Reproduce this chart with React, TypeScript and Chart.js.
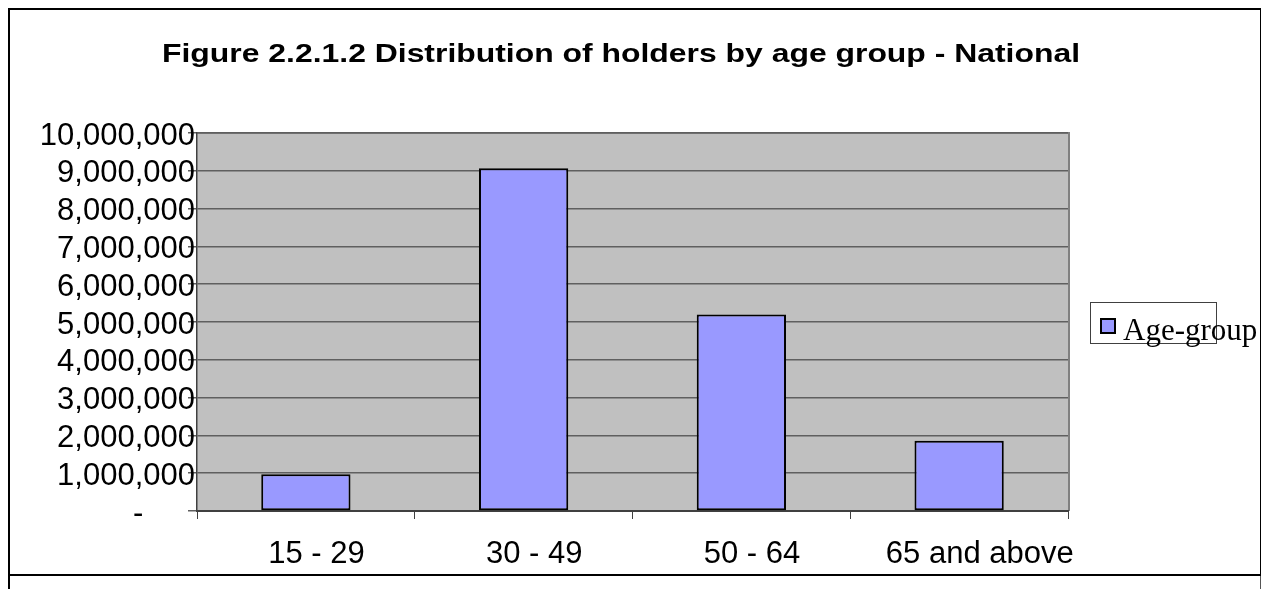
import React, { useEffect, useRef } from 'react';
import { Chart, registerables } from 'chart.js';

Chart.register(...registerables);

const TITLE = 'Figure 2.2.1.2 Distribution of holders by age group - National';
const CATEGORIES = ['15 - 29', '30 - 49', '50 - 64', '65 and above'];
const SERIES_LABEL = 'Age-group';
const SERIES_VALUES = [970000, 9070000, 5200000, 1860000];
const Y_MIN = 0;
const Y_MAX = 10000000;
const Y_STEP = 1000000;
const ZERO_LABEL = '-      ';

const SANS = '"Liberation Sans", Arial, sans-serif';
const SERIF = '"Liberation Serif", "Times New Roman", serif';

const W = 1253;
const H = 581;

const plotBackground = {
  id: 'plotBackground',
  beforeDraw(chart: any) {
    const { ctx, chartArea } = chart;
    const { left, top, right, bottom } = chartArea;
    ctx.save();
    ctx.fillStyle = '#C0C0C0';
    ctx.fillRect(left, top, right - left, bottom - top);
    ctx.strokeStyle = '#808080';
    ctx.lineWidth = 2;
    ctx.beginPath();
    ctx.moveTo(left, top);
    ctx.lineTo(right + 1, top);
    ctx.lineTo(right + 1, bottom);
    ctx.stroke();
    ctx.restore();
  },
};

const titlePlugin = {
  id: 'stretchedTitle',
  afterDraw(chart: any) {
    const { ctx } = chart;
    ctx.save();
    ctx.font = `bold 26.5px ${SANS}`;
    ctx.fillStyle = '#000';
    ctx.textAlign = 'center';
    ctx.textBaseline = 'alphabetic';
    const w = ctx.measureText(TITLE).width;
    const sx = 918 / w;
    ctx.translate(613, 54.3);
    ctx.scale(sx, 1);
    ctx.fillText(TITLE, 0, 0);
    ctx.restore();
  },
};

const xLabelsPlugin = {
  id: 'xLabels',
  afterDraw(chart: any) {
    const { ctx, chartArea } = chart;
    const xs = chart.scales.x;
    ctx.save();
    ctx.font = `31px ${SANS}`;
    ctx.fillStyle = '#000';
    ctx.textAlign = 'left';
    ctx.textBaseline = 'alphabetic';
    const labels = chart.data.labels as string[];
    labels.forEach((lab, i) => {
      const px = xs.getPixelForValue(i);
      const w = ctx.measureText(lab).width;
      ctx.fillText(lab, px - 0.39 * w, chartArea.bottom + 52);
    });
    ctx.restore();
  },
};

const legendPlugin = {
  id: 'boxLegend',
  afterDraw(chart: any) {
    const { ctx, chartArea } = chart;
    const ds = chart.data.datasets[0];
    const x0 = chartArea.right + 22;
    const boxW = 126;
    const boxH = 41;
    const y0 = Math.round((chartArea.top + chartArea.bottom) / 2 - boxH / 2);
    ctx.save();
    ctx.strokeStyle = '#404040';
    ctx.lineWidth = 1;
    ctx.strokeRect(x0 + 0.5, y0 + 0.5, boxW, boxH);
    ctx.fillStyle = ds.backgroundColor;
    ctx.fillRect(x0 + 10, y0 + 16, 16, 16);
    ctx.strokeStyle = '#000';
    ctx.lineWidth = 2;
    ctx.strokeRect(x0 + 11, y0 + 17, 14, 14);
    ctx.font = `31px ${SERIF}`;
    ctx.fillStyle = '#000';
    ctx.textAlign = 'left';
    ctx.textBaseline = 'alphabetic';
    ctx.fillText(ds.label, x0 + 33, y0 + 38);
    ctx.restore();
  },
};

export default function App() {
  const canvasRef = useRef<HTMLCanvasElement | null>(null);

  useEffect(() => {
    document.documentElement.style.overflow = 'hidden';
    const canvas = canvasRef.current;
    if (!canvas) return;
    const chart = new Chart(canvas, {
      type: 'bar',
      data: {
        labels: CATEGORIES,
        datasets: [
          {
            label: SERIES_LABEL,
            data: SERIES_VALUES,
            backgroundColor: '#9999FF',
            borderColor: '#000000',
            borderWidth: 2,
            borderSkipped: false,
            barPercentage: 0.41,
            categoryPercentage: 1,
          },
        ],
      },
      options: {
        responsive: false,
        animation: false,
        devicePixelRatio: 1,
        layout: { padding: { top: 125, right: 193, bottom: 0, left: 0 } },
        plugins: {
          legend: { display: false },
          title: { display: false },
          tooltip: { enabled: false },
        },
        scales: {
          x: {
            type: 'category',
            offset: true,
            grid: {
              display: true,
              drawOnChartArea: false,
              drawTicks: true,
              tickLength: 8,
              offset: true,
              color: '#404040',
              lineWidth: 1,
            },
            border: { display: true, color: '#404040', width: 2 },
            ticks: { display: false },
            afterFit: (s: any) => {
              s.height = 78;
            },
          },
          y: {
            min: Y_MIN,
            max: Y_MAX,
            ticks: {
              stepSize: Y_STEP,
              autoSkip: false,
              color: '#000',
              font: { family: SANS, size: 31 },
              padding: -7,
              labelOffset: 3,
              callback: (v: any) => (Number(v) === 0 ? ZERO_LABEL : Number(v).toLocaleString('en-US')),
            },
            grid: { color: '#5f5f5f', lineWidth: 1.5, tickLength: 9, drawTicks: true },
            border: { display: true, color: '#404040', width: 1.5 },
            afterFit: (s: any) => {
              s.width = 189;
            },
          },
        },
      },
      plugins: [plotBackground, titlePlugin, xLabelsPlugin, legendPlugin],
    } as any);
    return () => chart.destroy();
  }, []);

  return (
    <div style={{ position: 'fixed', left: 8, top: 8, width: W, height: H }}>
      <div
        style={{
          position: 'absolute',
          left: 0,
          top: 0,
          width: W,
          height: 568,
          boxSizing: 'border-box',
          borderTop: '2px solid #000',
          borderLeft: '2px solid #000',
          borderBottom: '2px solid #000',
          borderRight: '1px solid #000',
        }}
      />
      <div
        style={{
          position: 'absolute',
          left: 0,
          top: 568,
          width: W,
          height: H - 568,
          boxSizing: 'border-box',
          borderLeft: '2px solid #000',
          borderRight: '1px solid #555',
        }}
      />
      <canvas
        ref={canvasRef}
        width={W}
        height={H}
        style={{ position: 'absolute', left: 0, top: 0, width: W, height: H }}
      />
    </div>
  );
}
